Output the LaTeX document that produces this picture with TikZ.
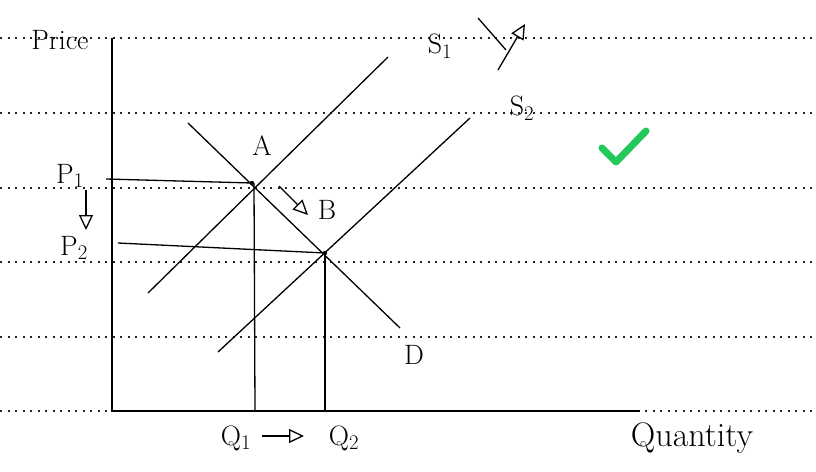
\documentclass[tikz,border=0pt]{standalone}
\usetikzlibrary{arrows.meta}
\definecolor{tick}{RGB}{34,200,90}
\begin{document}
\begin{tikzpicture}[x=1pt,y=-1pt,
  ruled/.style={line width=1.6pt,dash pattern=on 2pt off 5.5pt,black!85},
  pen/.style={line width=1.3pt,black},
  lbl/.style={font=\fontsize{28}{30}\selectfont,inner sep=0pt},
  mover/.style={pen,-{Triangle[open,length=15pt,width=14pt]}}]
\useasboundingbox (0,0) rectangle (816,471);
% ruled paper
\foreach \y in {38,113,188,262,337,411}
  \draw[ruled] (0,\y) -- (816,\y);
% axes
\coordinate (O) at (112,411);
\coordinate (Ytop) at (112,38);
\coordinate (Xend) at (640,411);
\draw[pen] (Ytop) -- (O) -- (Xend);
% curves
\coordinate (D1) at (188,123); \coordinate (D2) at (400,328);
\coordinate (S1a) at (148,293); \coordinate (S1b) at (388,57);
\coordinate (S2a) at (218,352); \coordinate (S2b) at (470,118);
\coordinate (A) at (252,183); \coordinate (B) at (325,253);
\draw[pen] (D1) -- (D2);
\draw[pen] (S1a) -- (S1b);
\draw[pen] (S2a) -- (S2b);
% guide lines
\coordinate (P1s) at (106,179); \coordinate (P2s) at (118,243);
\coordinate (Q1b) at (255,411); \coordinate (Q2b) at (325,411);
\draw[pen] (P1s) -- (A);
\draw[pen] (P2s) -- (B);
\draw[pen] (A) ++(2,0) -- (Q1b);
\draw[pen] (B) -- (Q2b);
\fill (A) circle (2.2pt);
\fill (B) circle (2.2pt);
% labels
\node[lbl] (price) at (60,40) {Price};
\node[lbl] (la) at (262,146) {A};
\node[lbl] (lb) at (327,210) {B};
\coordinate (ab1) at (279,186); \coordinate (ab2) at (308,215);
\draw[mover] (ab1) -- (ab2);
\node[lbl] (s1) at (440,46) {S$_1$};
\coordinate (sh1) at (478,18); \coordinate (sh2) at (506,50);
\draw[pen] (sh1) -- (sh2);
\coordinate (sa1) at (498,70); \coordinate (sa2) at (525,24);
\draw[mover] (sa1) -- (sa2);
\node[lbl] (s2) at (522,108) {S$_2$};
\node[lbl] (p1) at (70,176) {P$_1$};
\coordinate (pa1) at (86,190); \coordinate (pa2) at (86,230);
\draw[mover] (pa1) -- (pa2);
\node[lbl] (p2) at (74,248) {P$_2$};
\node[lbl] (q1) at (236,438) {Q$_1$};
\coordinate (qa1) at (262,436); \coordinate (qa2) at (304,436);
\draw[mover] (qa1) -- (qa2);
\node[lbl] (q2) at (344,438) {Q$_2$};
\node[lbl] (d) at (414,355) {D};
\node[lbl,font=\fontsize{34}{36}\selectfont] (qty) at (692,438) {Quantity};
% check mark
\coordinate (c1) at (602,148); \coordinate (c2) at (616,162); \coordinate (c3) at (646,131);
\draw[tick,line width=7pt,line join=round,line cap=round] (c1) -- (c2) -- (c3);
\end{tikzpicture}
\end{document}
